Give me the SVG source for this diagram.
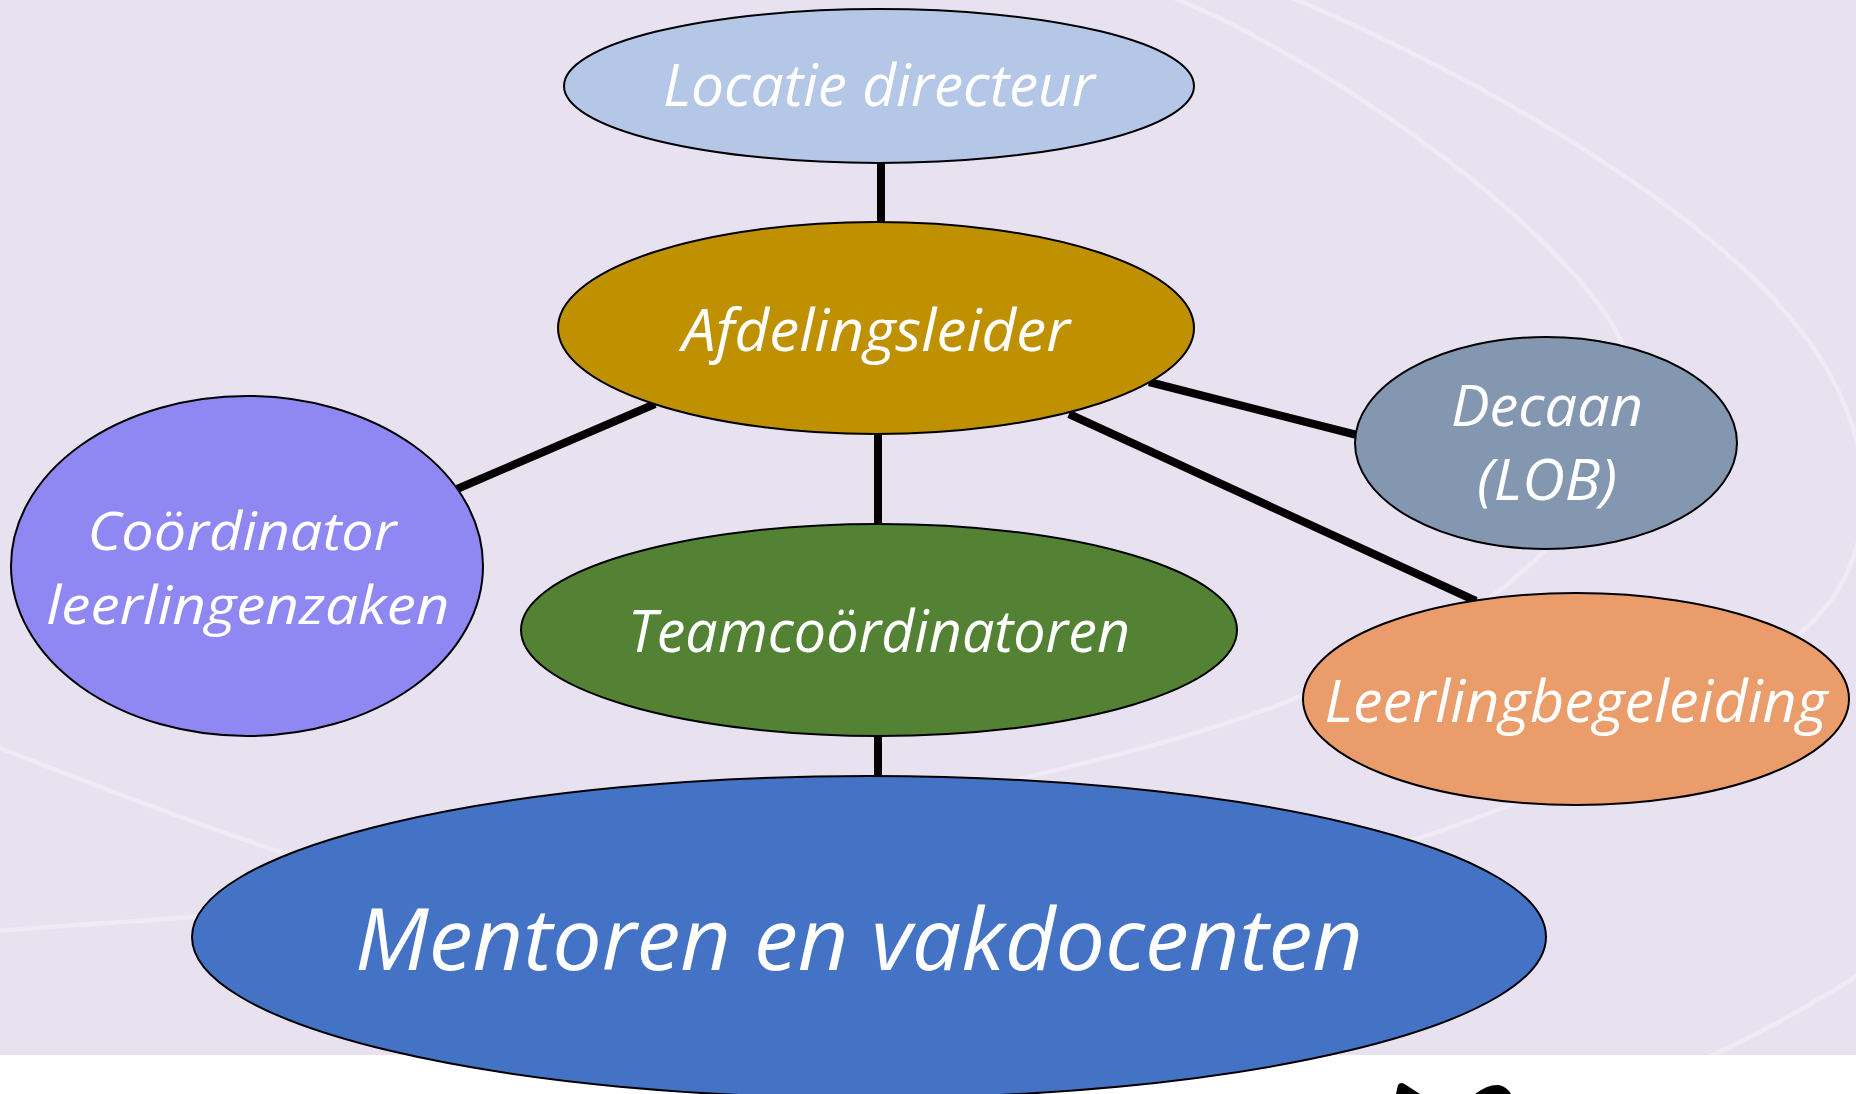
<svg xmlns="http://www.w3.org/2000/svg" width="1856" height="1094" viewBox="0 0 1856 1094">
<style>
.bgarc{fill:none;stroke:#EFEBF5;stroke-width:4.5}
.node{stroke:#000;stroke-width:2}
.lbl{font-family:"Open Sans","Noto Sans","Liberation Sans",sans-serif;font-style:italic;fill:#fff;text-anchor:middle}
.conn line{stroke:#000;stroke-width:8}
</style>
<rect x="0" y="0" width="1856" height="1094" fill="#E7E1F0"/>
<g id="background">
<path class="bgarc" d="M1260,-15 C1450,60 1700,200 1800,330 C1880,430 1890,560 1798,635 C1720,700 1600,780 1416,839 C1100,940 600,960 283,853 C180,818 80,780 -20,740"/>
<path class="bgarc" d="M1140,-15 C1300,40 1560,220 1621,340 C1660,420 1600,510 1500,590 C1420,650 1300,705 1150,746 C800,840 400,900 193,917 C120,922 50,927 -20,932"/>
<path class="bgarc" d="M1890,955 C1820,1000 1760,1035 1690,1065"/>
<rect x="0" y="1055" width="1856" height="39" fill="#FFFFFF"/>
<path d="M1396,1094 L1398,1085 Q1401,1081 1406,1085 L1420,1094 Z" fill="#000"/>
<path d="M1475,1094 Q1488,1084 1499,1085 Q1507,1087 1511,1094 Z" fill="#000"/>
</g>
<g id="connectors" class="conn">
<line x1="881" y1="160" x2="881" y2="226"/>
<line x1="655" y1="404" x2="457" y2="489"/>
<line x1="878" y1="430" x2="878" y2="526"/>
<line x1="1149" y1="382" x2="1357" y2="435"/>
<line x1="1069" y1="414" x2="1476" y2="601"/>
<line x1="878" y1="733" x2="878" y2="780"/>
</g>
<g id="locatie-directeur">
<ellipse class="node" cx="879" cy="86" rx="315" ry="77" fill="#B4C7E7"/>
<text class="lbl" x="879" y="106" font-size="58" textLength="432" lengthAdjust="spacingAndGlyphs">Locatie directeur</text>
</g>
<g id="afdelingsleider">
<ellipse class="node" cx="876" cy="328" rx="318" ry="106" fill="#BF9000"/>
<text class="lbl" x="876" y="351" font-size="58" textLength="388" lengthAdjust="spacingAndGlyphs">Afdelingsleider</text>
</g>
<g id="coordinator-leerlingenzaken">
<ellipse class="node" cx="247" cy="566" rx="236" ry="170" fill="#8F88F2"/>
<text class="lbl" x="242" y="550" font-size="53" textLength="309" lengthAdjust="spacingAndGlyphs">Coördinator</text>
<text class="lbl" x="248" y="624" font-size="53" textLength="403" lengthAdjust="spacingAndGlyphs">leerlingenzaken</text>
</g>
<g id="teamcoordinatoren">
<ellipse class="node" cx="879" cy="630" rx="358" ry="106" fill="#548235"/>
<text class="lbl" x="879" y="652" font-size="58" textLength="502" lengthAdjust="spacingAndGlyphs">Teamcoördinatoren</text>
</g>
<g id="decaan">
<ellipse class="node" cx="1546" cy="443" rx="191" ry="106" fill="#8497B0"/>
<text class="lbl" x="1547" y="426" font-size="56" textLength="192" lengthAdjust="spacingAndGlyphs">Decaan</text>
<text class="lbl" x="1547" y="500" font-size="56" textLength="140" lengthAdjust="spacingAndGlyphs">(LOB)</text>
</g>
<g id="leerlingbegeleiding">
<ellipse class="node" cx="1576" cy="699" rx="273" ry="106" fill="#EA9C6B"/>
<text class="lbl" x="1576" y="722" font-size="58" textLength="503" lengthAdjust="spacingAndGlyphs">Leerlingbegeleiding</text>
</g>
<g id="mentoren-en-vakdocenten">
<ellipse class="node" cx="869" cy="937" rx="677" ry="161" fill="#4472C4"/>
<text class="lbl" x="859" y="970" font-size="86" textLength="1008" lengthAdjust="spacingAndGlyphs">Mentoren en vakdocenten</text>
</g>
</svg>
